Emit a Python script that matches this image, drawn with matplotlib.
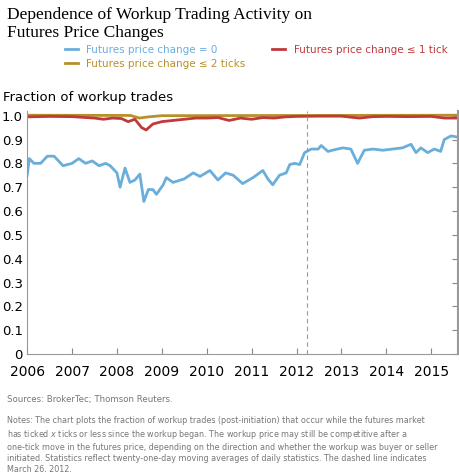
import numpy as np
import matplotlib.pyplot as plt

# data (year, fraction)
blue_x = [2006.0, 2006.05, 2006.15, 2006.3, 2006.45, 2006.6, 2006.8, 2007.0, 2007.15, 2007.3, 2007.45,
          2007.6, 2007.75, 2007.85, 2008.0, 2008.07, 2008.18, 2008.29, 2008.4, 2008.51, 2008.6, 2008.7,
          2008.8, 2008.88, 2009.03, 2009.1, 2009.25, 2009.5, 2009.7, 2009.85, 2010.07, 2010.25, 2010.42,
          2010.59, 2010.8, 2011.03, 2011.25, 2011.36, 2011.47, 2011.62, 2011.77, 2011.85, 2011.96, 2012.07,
          2012.18, 2012.33, 2012.48, 2012.55, 2012.7, 2012.8, 2013.03, 2013.21, 2013.36, 2013.51, 2013.7,
          2013.92, 2014.14, 2014.36, 2014.55, 2014.66, 2014.77, 2014.92, 2015.07, 2015.21, 2015.29,
          2015.44, 2015.59]
blue_y = [0.75, 0.82, 0.80, 0.80, 0.83, 0.83, 0.79, 0.80, 0.82, 0.80, 0.81,
          0.79, 0.80, 0.79, 0.76, 0.70, 0.78, 0.72, 0.73, 0.755, 0.64, 0.69,
          0.69, 0.67, 0.71, 0.74, 0.72, 0.735, 0.76, 0.745, 0.77, 0.73, 0.76,
          0.75, 0.715, 0.74, 0.77, 0.735, 0.71, 0.75, 0.76, 0.795, 0.80, 0.795,
          0.845, 0.86, 0.86, 0.875, 0.85, 0.855, 0.865, 0.86, 0.80, 0.855, 0.86,
          0.855, 0.86, 0.865, 0.88, 0.845, 0.865, 0.845, 0.86, 0.85, 0.90,
          0.915, 0.91]
red_x = [2006.0, 2006.5, 2007.0, 2007.5, 2007.7, 2007.9, 2008.1, 2008.25, 2008.4, 2008.55, 2008.65,
         2008.8, 2009.0, 2009.25, 2009.5, 2009.75, 2010.0, 2010.25, 2010.5, 2010.75, 2011.0, 2011.25,
         2011.5, 2011.75, 2012.0, 2012.5, 2013.0, 2013.4, 2013.7, 2014.0, 2014.5, 2015.0, 2015.3, 2015.59]
red_y = [0.995, 0.997, 0.996, 0.99, 0.985, 0.99, 0.988, 0.975, 0.985, 0.95, 0.94,
         0.965, 0.975, 0.98, 0.985, 0.99, 0.99, 0.992, 0.98, 0.99, 0.985, 0.992,
         0.99, 0.995, 0.997, 0.998, 0.998, 0.99, 0.996, 0.997, 0.996, 0.997, 0.99, 0.99]
gold_x = [2006.0, 2008.3, 2008.5, 2008.7, 2009.0, 2015.59]
gold_y = [1.002, 1.001, 0.99, 0.995, 1.0, 1.002]

years = list(range(2006, 2016))
c_blue, c_red, c_gold = '#6aaedb', '#c0393b', '#b8902a'

fig = plt.figure(figsize=(4.6, 4.72), dpi=100)
fig.text(0.015, 0.985, 'Dependence of Workup Trading Activity on\nFutures Price Changes',
         family='Liberation Serif', fontsize=12.5, va='top', linespacing=1.2)

ax = fig.add_axes([0.059, 0.25, 0.937, 0.515])
ax.plot(blue_x, blue_y, color=c_blue, lw=2, label='Futures price change = 0')
ax.plot(gold_x, gold_y, color=c_gold, lw=2, label='Futures price change ≤ 2 ticks')
ax.plot(red_x, red_y, color=c_red, lw=2, label='Futures price change ≤ 1 tick')
ax.axvline(2012.24, color='#999999', lw=0.8, ls=(0, (4, 3)))

ax.set_xlim(2006, 2015.6)
ax.set_ylim(0, 1.02)
ax.set_yticks(np.arange(0, 1.01, 0.1))
ax.set_yticklabels(['0'] + [f'{v:.1f}' for v in np.arange(0.1, 1.01, 0.1)])
ax.set_xticks(years)
ax.set_xticklabels([str(y) for y in years])
ax.tick_params(axis='x', direction='in', length=4, color='#888888', labelsize=10, pad=8)
ax.tick_params(axis='y', direction='in', length=4, color='#888888', labelsize=9.5,
               left=False, right=True, pad=3)
for s in ['left', 'bottom', 'right']:
    ax.spines[s].set_color('#999999')
ax.spines['right'].set_linewidth(1.5)
ax.spines['top'].set_visible(False)
ax.text(-0.055, 1.03, 'Fraction of workup trades', transform=ax.transAxes, fontsize=9.5, va='bottom')

h, l = ax.get_legend_handles_labels()
leg = fig.legend(h, l, loc='upper left', bbox_to_anchor=(0.12, 0.925),
                 ncol=2, frameon=False, fontsize=7.5, handlelength=1.3, columnspacing=2.5,
                 handletextpad=0.8, labelspacing=0.4)
for txt, c in zip(leg.get_texts(), [c_blue, c_gold, c_red]):
    txt.set_color(c)

fig.text(0.015, 0.148, 'Sources: BrokerTec; Thomson Reuters.', fontsize=6.2, color='#777777')
fig.text(0.015, 0.118,
         'Notes: The chart plots the fraction of workup trades (post-initiation) that occur while the futures market\n'
         'has ticked $x$ ticks or less since the workup began. The workup price may still be competitive after a\n'
         'one-tick move in the futures price, depending on the direction and whether the workup was buyer or seller\n'
         'initiated. Statistics reflect twenty-one-day moving averages of daily statistics. The dashed line indicates\n'
         'March 26, 2012.',
         fontsize=5.75, color='#777777', va='top', linespacing=1.3)

fig.savefig('out.png', dpi=100)
